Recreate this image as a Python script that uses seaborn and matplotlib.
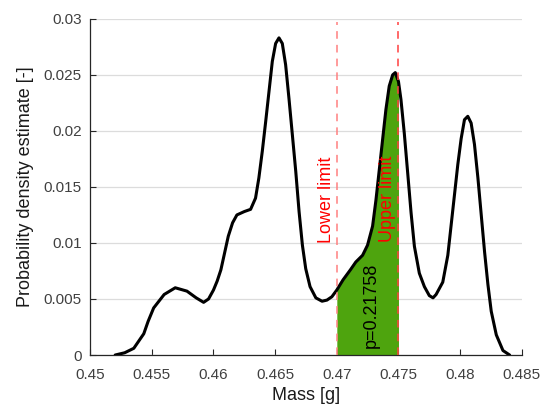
import numpy as np
import pandas as pd
import matplotlib
matplotlib.use("Agg")
import matplotlib.pyplot as plt
from matplotlib.ticker import FuncFormatter
import seaborn as sns

# Data
mass = [0.45203, 0.45280, 0.45354, 0.45435, 0.45470, 0.45515, 0.45600, 0.45690,
        0.45785, 0.45860, 0.45920, 0.45960, 0.46000, 0.46030, 0.46060, 0.46090,
        0.46120, 0.46155, 0.46190, 0.46250, 0.46301, 0.46341, 0.46368, 0.46396,
        0.46423, 0.46450, 0.46477, 0.46504, 0.46531, 0.46558, 0.46585, 0.46612,
        0.46640, 0.46667, 0.46694, 0.46721, 0.46748, 0.46783, 0.46830, 0.46880,
        0.46920, 0.46960, 0.47000, 0.47050, 0.47110, 0.47154, 0.47209, 0.47249,
        0.47290, 0.47317, 0.47344, 0.47371, 0.47398, 0.47425, 0.47453, 0.47474,
        0.47500, 0.47520, 0.47547, 0.47575, 0.47602, 0.47629, 0.47669, 0.47710,
        0.47750, 0.47780, 0.47805, 0.47859, 0.47900, 0.47927, 0.47954, 0.47981,
        0.48008, 0.48035, 0.48062, 0.48089, 0.48116, 0.48144, 0.48171, 0.48198,
        0.48225, 0.48252, 0.48293, 0.48347, 0.48401]
density = [0.0000, 0.0002, 0.0006, 0.0019, 0.0030, 0.0042, 0.0054, 0.0060,
           0.0057, 0.0051, 0.0047, 0.0050, 0.0058, 0.0066, 0.0076, 0.0091,
           0.0106, 0.0118, 0.0125, 0.0128, 0.0130, 0.0140, 0.0158, 0.0182,
           0.0208, 0.0235, 0.0262, 0.0278, 0.0283, 0.0278, 0.0259, 0.0229,
           0.0196, 0.0164, 0.0128, 0.0098, 0.0077, 0.0061, 0.0051, 0.0048,
           0.0049, 0.0052, 0.0058, 0.0067, 0.0076, 0.0083, 0.0089, 0.0098,
           0.0115, 0.0138, 0.0165, 0.0192, 0.0219, 0.0240, 0.0250, 0.0252,
           0.0244, 0.0228, 0.0198, 0.0162, 0.0127, 0.0097, 0.0073, 0.0061,
           0.0053, 0.0051, 0.0054, 0.0065, 0.0089, 0.0116, 0.0143, 0.0170,
           0.0193, 0.0210, 0.0213, 0.0207, 0.0188, 0.0158, 0.0125, 0.0092,
           0.0063, 0.0039, 0.0018, 0.0004, 0.0000]
lower_limit = 0.470
upper_limit = 0.475
p_value = 0.21758
x_ticks = [0.45, 0.455, 0.46, 0.465, 0.47, 0.475, 0.48, 0.485]
y_ticks = [0, 0.005, 0.01, 0.015, 0.02, 0.025, 0.03]

df = pd.DataFrame({"mass": mass, "density": density})

sns.set_theme(style="whitegrid")
plt.rcParams["font.family"] = ["Liberation Sans", "DejaVu Sans"]

fig = plt.figure(figsize=(5.43, 4.09), dpi=100)
ax = fig.add_axes([0.166, 0.132, 0.795, 0.822])

# shaded probability region between the limits
x = np.array(mass)
y = np.array(density)
mask = (x >= lower_limit) & (x <= upper_limit)
ax.fill_between(x[mask], 0, y[mask], color="#4ea40e", linewidth=0, zorder=2)

sns.lineplot(data=df, x="mass", y="density", color="black", linewidth=2.2,
             sort=True, estimator=None, ax=ax, zorder=3)

ax.axvline(lower_limit, ymax=0.99, color="#ff8080", linestyle=(0, (5, 4)), linewidth=1.1, zorder=4)
ax.axvline(upper_limit, ymax=0.99, color="#ff4040", linestyle=(0, (5, 4)), linewidth=1.1, zorder=4)

ax.text(lower_limit - 0.0008, 0.0100, "Lower limit", rotation=90, color="red",
        fontsize=13, ha="center", va="bottom", zorder=5)
ax.text(upper_limit - 0.0009, 0.0101, "Upper limit", rotation=90, color="red",
        fontsize=13, ha="center", va="bottom", zorder=5)
ax.text(0.4728, 0.0006, f"p={p_value}", rotation=90, color="black",
        fontsize=13, ha="center", va="bottom", zorder=5)

ax.set_xlim(0.45, 0.485)
ax.set_ylim(0, 0.03)
ax.set_xticks(x_ticks)
ax.set_yticks(y_ticks)
ax.xaxis.set_major_formatter(FuncFormatter(lambda v, _: f"{v:g}"))
ax.yaxis.set_major_formatter(FuncFormatter(lambda v, _: f"{v:g}"))

ax.grid(axis="x", visible=False)
ax.grid(axis="y", color="#dcdcdc", linewidth=0.9)
ax.set_axisbelow(True)
ax.set_facecolor("white")

for side in ["top", "right"]:
    ax.spines[side].set_visible(False)
for side in ["left", "bottom"]:
    ax.spines[side].set_visible(True)
    ax.spines[side].set_color("#262626")
    ax.spines[side].set_linewidth(0.9)

ax.tick_params(axis="both", direction="in", length=4, width=0.8, color="#262626",
               labelsize=11, labelcolor="#404040")
ax.tick_params(axis="x", bottom=True, pad=9)
ax.tick_params(axis="y", left=True, pad=6)

ax.set_xlabel("Mass [g]", fontsize=13, color="#1a1a1a", labelpad=4)
ax.set_ylabel("Probability density estimate [-]", fontsize=13, color="#1a1a1a", labelpad=7)

fig.savefig("out.png", dpi=100)
